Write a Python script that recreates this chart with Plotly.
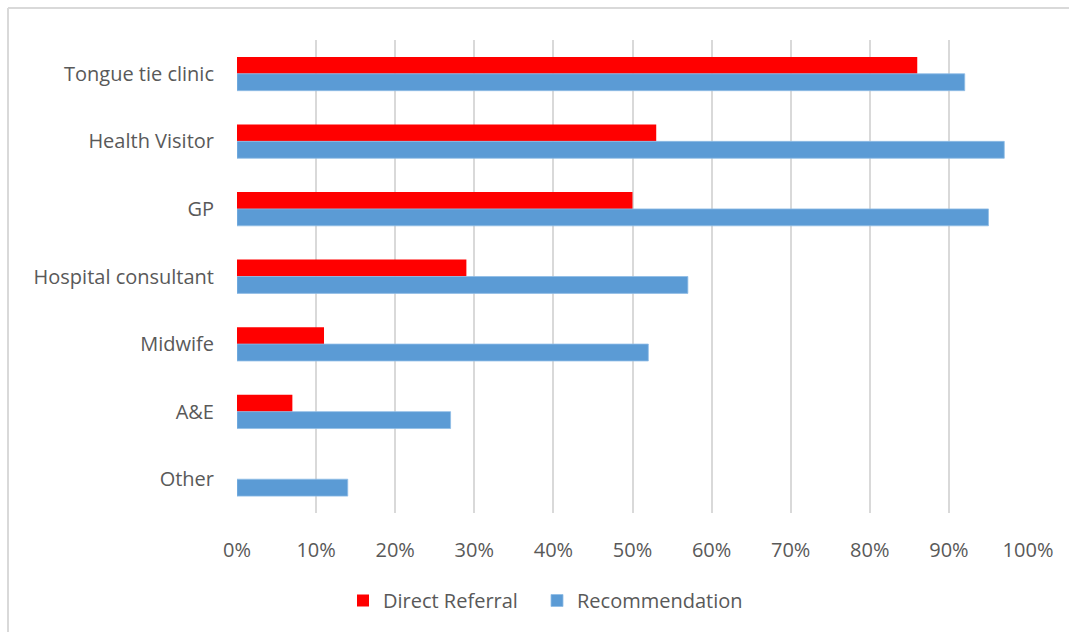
import plotly.graph_objects as go

categories = ["Tongue tie clinic", "Health Visitor", "GP", "Hospital consultant",
              "Midwife", "A&E", "Other"]
direct_referral = [0.86, 0.53, 0.50, 0.29, 0.11, 0.07, 0.0]
recommendation = [0.92, 0.97, 0.95, 0.57, 0.52, 0.27, 0.14]
tick_values = [i / 10 for i in range(11)]
tick_labels = [f"{i * 10}%" for i in range(11)]

W, H = 1069, 632
ML, MR, MT, MB = 237, 41, 40, 119
PW, PH = W - ML - MR, H - MT - MB

TEXT = "#595959"
GRID = "#d9d9d9"
FONT = "Open Sans, Carlito, Calibri, sans-serif"

fig = go.Figure()
fig.add_trace(go.Bar(
    y=categories, x=direct_referral, orientation="h", name="Direct Referral",
    marker=dict(color="#ff0000", line=dict(width=0)),
    legend="legend",
))
fig.add_trace(go.Bar(
    y=categories, x=recommendation, orientation="h", name="Recommendation",
    marker=dict(color="#5b9bd5", line=dict(width=0.8, color="#8fbce6")),
    legend="legend2",
))


def px_x(p):
    return (p - ML) / PW


def px_y(p):
    return 1 - (p - MT) / PH


# outer frame (left and top edges)
fig.add_shape(type="line", xref="paper", yref="paper",
              x0=px_x(8), x1=px_x(W + 5), y0=px_y(8), y1=px_y(8),
              line=dict(color=GRID, width=2))
fig.add_shape(type="line", xref="paper", yref="paper",
              x0=px_x(8), x1=px_x(8), y0=px_y(8), y1=px_y(H + 5),
              line=dict(color=GRID, width=2))

legend_style = dict(
    orientation="h", xanchor="left", yanchor="top", y=px_y(581),
    font=dict(family=FONT, size=20, color=TEXT), itemwidth=30,
    bgcolor="rgba(0,0,0,0)",
)

fig.update_layout(
    width=W, height=H,
    margin=dict(l=ML, r=MR, t=MT, b=MB, pad=0),
    paper_bgcolor="white", plot_bgcolor="white",
    barmode="group", bargap=0.5, bargroupgap=0,
    font=dict(family=FONT, size=20, color=TEXT),
    xaxis=dict(
        range=[0, 1], tickvals=tick_values, ticktext=tick_labels,
        showgrid=True, gridcolor=GRID, gridwidth=2,
        zeroline=False, showline=False,
        ticks="outside", ticklen=19, tickcolor="rgba(0,0,0,0)",
        tickfont=dict(family=FONT, size=20, color=TEXT),
    ),
    yaxis=dict(
        autorange="reversed", showgrid=False, zeroline=False,
        showline=False, ticks="outside", ticklen=18, tickcolor="rgba(0,0,0,0)",
        tickfont=dict(family=FONT, size=20, color=TEXT),
    ),
    legend=dict(x=px_x(343), **legend_style),
    legend2=dict(x=px_x(537), **legend_style),
    showlegend=True,
)

fig.write_html("out.html")
